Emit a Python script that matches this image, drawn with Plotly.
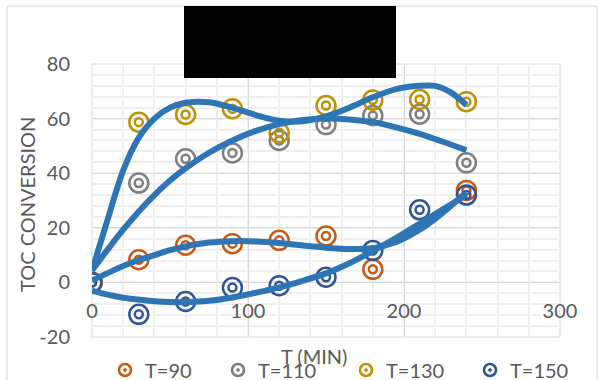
import plotly.graph_objects as go

# ---- data ----
time = [0, 30, 60, 90, 120, 150, 180, 210, 240]
t90 = [0, 8.3, 13.6, 14.2, 15.4, 17.0, 4.8, None, 33.7]
t110 = [0, 36.4, 45.3, 47.4, 52.0, 57.8, 61.1, 61.6, 43.8]
t130 = [0, 58.7, 61.5, 63.6, 54.8, 64.8, 66.8, 67.0, 66.2]
t150 = [0, -11.7, -7.0, -1.9, -1.2, 1.9, 11.7, 26.6, 32.0]

# trendline values
fit_x = [0, 10, 20, 30, 40, 50, 60, 75, 90, 105, 120, 135, 150, 165, 180, 195, 210, 220, 230, 240]
fit90 = [0.7, 3.4, 6.0, 8.2, 10.0, 11.8, 13.2, 14.6, 15.1, 15.0, 14.4, 13.5, 12.7, 12.2, 12.5, 14.8, 19.3, 23.3, 28.0, 33.0]
fit110 = [4.4, 12.0, 19.3, 26.0, 32.0, 37.3, 41.8, 47.5, 52.0, 55.5, 58.0, 59.5, 60.0, 59.7, 58.7, 56.8, 54.4, 52.5, 50.5, 48.4]
fit130 = [4.4, 23.0, 41.0, 53.0, 60.0, 64.0, 65.8, 66.0, 64.0, 61.3, 59.2, 59.0, 60.8, 64.0, 67.8, 70.8, 72.0, 72.0, 69.6, 65.0]
fit150 = [-3.0, -4.5, -5.6, -6.3, -6.9, -7.2, -7.2, -6.7, -5.5, -3.8, -1.8, 0.6, 3.3, 7.0, 11.5, 16.3, 21.5, 25.0, 28.5, 32.0]

names = ["T=90", "T=110", "T=130", "T=150"]
x_ticks = [0, 100, 200, 300]
x_tick_text = ["0", "100", "200", "300"]
y_ticks = [-20, 0, 20, 40, 60, 80]
y_tick_text = ["-20", "0", "20", "40", "60", "80"]

series = [t90, t110, t130, t150]
fits = [fit90, fit110, fit130, fit150]
colors = ["#C55A11", "#7F7F7F", "#BF9000", "#2F5597"]

LINE = "#2E75B6"
TXT = "#595959"
FONT = "Lato"

W, H = 598, 380
L, R, T, B = 92, 38, 64, 43
pw = W - L - R
ph = H - T - B

def px_x(p):
    return (p - L) / pw

def px_y(p):
    return (H - B - p) / ph

fig = go.Figure()

# markers (double ring)
for name, ys, c in zip(names, series, colors):
    fig.add_trace(go.Scatter(x=time, y=ys, mode="markers", showlegend=False,
                             marker=dict(symbol="circle-open", size=19, color=c,
                                         line=dict(width=2.5, color=c)),
                             hoverinfo="skip"))
    fig.add_trace(go.Scatter(x=time, y=ys, mode="markers", showlegend=False,
                             marker=dict(symbol="circle-open", size=8, color=c,
                                         line=dict(width=2.5, color=c)),
                             hoverinfo="skip"))

# trendlines on top
for f in fits:
    fig.add_trace(go.Scatter(x=fit_x, y=f, mode="lines", showlegend=False,
                             line=dict(color=LINE, width=6, shape="spline", smoothing=0.8),
                             hoverinfo="skip"))

# legend entries (one legend box per entry so each sits where the reference has it)
legend_ids = ["legend", "legend2", "legend3", "legend4"]
legend_px = [105, 218, 346, 470]
for name, c, lid in zip(names, colors, legend_ids):
    fig.add_trace(go.Scatter(x=[None], y=[None], mode="markers", name=name, legend=lid,
                             marker=dict(symbol="circle-open-dot", size=12, color=c,
                                         line=dict(width=2.6, color=c))))

legend_style = dict(orientation="h", xanchor="left", y=px_y(370), yanchor="middle",
                    font=dict(family=FONT, size=20, color=TXT), bgcolor="rgba(0,0,0,0)",
                    itemsizing="trace")
legends = {lid: dict(legend_style, x=px_x(p)) for lid, p in zip(legend_ids, legend_px)}

fig.update_layout(
    width=W, height=H,
    margin=dict(l=L, r=R, t=T, b=B, pad=0, autoexpand=False),
    paper_bgcolor="white", plot_bgcolor="white",
    font=dict(family=FONT, size=20, color=TXT),
    xaxis=dict(range=[0, 300], tickmode="array", tickvals=x_ticks, ticktext=x_tick_text,
               showgrid=True, gridcolor="#D9D9D9", gridwidth=1,
               zeroline=False, showline=False, ticks="", anchor="free", position=0.2,
               ticklabelstandoff=15,
               tickfont=dict(family=FONT, size=20, color=TXT),
               minor=dict(dtick=20, tick0=0, showgrid=True, gridcolor="#EFEFEF", gridwidth=1.5)),
    yaxis=dict(range=[-20, 80], tickmode="array", tickvals=y_ticks, ticktext=y_tick_text,
               showgrid=True, gridcolor="#D9D9D9", gridwidth=1,
               zeroline=True, zerolinecolor="#D9D9D9", zerolinewidth=1, showline=False, ticks="",
               ticklabelstandoff=21,
               tickfont=dict(family=FONT, size=20, color=TXT),
               minor=dict(dtick=4, tick0=0, showgrid=True, gridcolor="#EFEFEF", gridwidth=1.5)),
    showlegend=True,
    **legends,
)

# plot-area frame
fig.add_shape(type="rect", xref="x domain", yref="y domain", x0=0, x1=1, y0=0, y1=1,
              line=dict(color="#D9D9D9", width=1), layer="below")
# chart-area border
fig.add_shape(type="rect", xref="paper", yref="paper", x0=px_x(7), x1=px_x(597.5),
              y0=px_y(395), y1=px_y(6), line=dict(color="#D9D9D9", width=1), layer="below")
# redaction box over the title
fig.add_shape(type="rect", xref="paper", yref="paper", x0=px_x(184), x1=px_x(396),
              y0=px_y(78), y1=px_y(6), fillcolor="black", line=dict(width=0), layer="above")

fig.add_annotation(text="T (MIN)", xref="paper", yref="paper", x=px_x(314), y=px_y(356),
                   showarrow=False, xanchor="center", yanchor="middle",
                   font=dict(family=FONT, size=20, color=TXT))
fig.add_annotation(text="TOC CONVERSION", xref="paper", yref="paper", x=px_x(27), y=px_y(205),
                   showarrow=False, textangle=-90, xanchor="center", yanchor="middle",
                   font=dict(family=FONT, size=20, color=TXT))

fig.write_html("out.html")
